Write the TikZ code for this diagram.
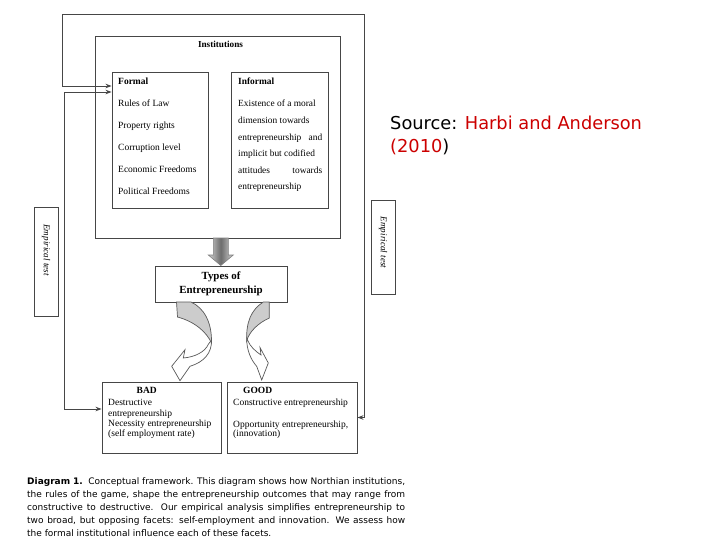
\documentclass[tikz,border=0pt]{standalone}
\usepackage{fontspec}
\setmainfont{Liberation Serif}
\newfontfamily\sansf{DejaVu Sans}
\usetikzlibrary{arrows.meta,calc}
\definecolor{srcred}{RGB}{204,0,0}
\definecolor{lin}{RGB}{70,70,70}
\begin{document}
\begin{tikzpicture}[x=1pt,y=-1pt,
  box/.style={draw=lin, line width=0.9pt, fill=white, inner sep=0pt},
  conn/.style={draw=lin, line width=0.9pt},
  tips2/.style={{Stealth[length=6pt,width=4.5pt]}-{Stealth[length=6pt,width=4.5pt]}},
  txt/.style={inner sep=0pt, align=left, anchor=north west},
  cur/.style={draw=black!65, line width=0.7pt},
  emp/.style={inner sep=0pt, rotate=-90, font=\fontsize{9.1}{11}\selectfont\itshape},
]
\useasboundingbox (0,0) rectangle (720,540);
\fill[white] (0,0) rectangle (720,540);

% boxes
\node[box, minimum width=245pt, minimum height=202pt] (inst) at (217.5,137) {};
\node[box, minimum width=96pt, minimum height=136pt] (formal) at (160,140) {};
\node[box, minimum width=97pt, minimum height=136pt] (informal) at (279.5,140) {};
\node[box, minimum width=132pt, minimum height=36pt, align=center,
      font=\fontsize{10.9}{14.5}\selectfont\bfseries] (types) at (221,284) {Types of\\Entrepreneurship};
\node[box, minimum width=119pt, minimum height=71pt] (bad) at (161.5,417.5) {};
\node[box, minimum width=130pt, minimum height=71pt] (good) at (292,417.5) {};
\node[box, minimum width=24pt, minimum height=109pt] (empl) at (46,261.5) {};
\node[box, minimum width=24pt, minimum height=94pt] (empr) at (383,247) {};

% texts
\node[inner sep=0pt, font=\fontsize{9.2}{11}\selectfont\bfseries] (insttitle) at (220.5,44.5) {Institutions};
\node[txt, font=\fontsize{9.5}{22}\selectfont] (formaltxt) at (118,78)
  {\textbf{Formal}\\Rules of Law\\Property rights\\Corruption level\\Economic Freedoms\\Political Freedoms};
\node[txt, font=\fontsize{9.4}{16.6}\selectfont] (informaltxt) at (238,78)
  {\textbf{Informal}\\[5.4pt]Existence of a moral\\dimension towards\\\makebox[84pt][s]{entrepreneurship and}\\implicit but codified\\\makebox[84pt][s]{attitudes towards}\\entrepreneurship};
\node[txt, font=\fontsize{9.5}{10.4}\selectfont] (badtxt) at (108,387)
  {\hspace*{28.5pt}\textbf{BAD}\\[1.9pt]Destructive\\entrepreneurship\\Necessity entrepreneurship\\(self employment rate)};
\node[txt, font=\fontsize{9.5}{10.4}\selectfont] (goodtxt) at (233,387)
  {\hspace*{10pt}\textbf{GOOD}\\[1.9pt]Constructive entrepreneurship\\[11.6pt]Opportunity entrepreneurship,\\[-1.4pt](innovation)};
\node[emp] (empltxt) at (46,250) {Empirical test};
\node[emp] (emprtxt) at (383,242.5) {Empirical test};

% connectors
\coordinate (fa) at (62,86);
\coordinate (fb) at (64,92);
\coordinate (tl) at (62,14);
\coordinate (tr) at (364,14);
\coordinate (bl) at (64,409);
\draw[conn, tips2] (formal.west |- fa) -- (fa) -- (tl) -- (tr) -- (tr |- good.east) -- (good.east);
\draw[conn, tips2] (formal.west |- fb) -- (fb) -- (bl) -- (bad.west |- bl);

% block arrow institutions -> types
\shadedraw[draw=gray, line width=0.6pt, left color=gray!35, right color=gray!35, middle color=gray!85!black]
  (213.3,238) -- (228.3,238) -- (228.3,255) -- (233.3,255) -- (220.8,265.5) -- (208.3,255) -- (213.3,255) -- cycle;

% curved arrow to BAD
\filldraw[cur, fill=white] (211.5,340) .. controls (212,353) and (204,362) .. (190,366.3)
  -- (180,380.7) -- (171.7,366.3) -- (185,349.7) -- (183.3,358)
  .. controls (195,357) and (205,352) .. (208.5,344) -- cycle;
\filldraw[cur, fill=gray!40] (176.5,302) -- (191,302) .. controls (204,308) and (212,322) .. (211.5,343)
  .. controls (207,333) and (196,322) .. (177.5,317) -- cycle;

% curved arrow to GOOD
\filldraw[cur, fill=white] (246.7,338) .. controls (246.5,350) and (251,360) .. (256.7,366.3)
  -- (261.7,380) -- (268.3,363) -- (260,347.5) -- (261,355)
  .. controls (255,351) and (250,346) .. (248,341) -- cycle;
\filldraw[cur, fill=gray!40] (263.3,302) .. controls (251,310) and (246,322) .. (246.7,341)
  .. controls (249,332) and (258,323) .. (269.3,318) -- (269.3,302) -- cycle;

% source
\node[txt, font=\sansf\fontsize{17.8}{22.5}\selectfont] (source) at (390,116)
  {Source: \textcolor{srcred}{Harbi and Anderson}\\\textcolor{srcred}{(2010})};

% caption
\node[txt, font=\sansf\fontsize{9}{13}\selectfont] (caption) at (27,477.7)
  {\makebox[378pt][s]{\textbf{Diagram 1.}\ \ Conceptual framework. This diagram shows how Northian institutions,}\\
   \makebox[378pt][s]{the rules of the game, shape the entrepreneurship outcomes that may range from}\\
   \makebox[378pt][s]{constructive to destructive. Our empirical analysis simplifies entrepreneurship to}\\
   \makebox[378pt][s]{two broad, but opposing facets: self-employment and innovation. We assess how}\\
   the formal institutional influence each of these facets.};
\end{tikzpicture}
\end{document}
